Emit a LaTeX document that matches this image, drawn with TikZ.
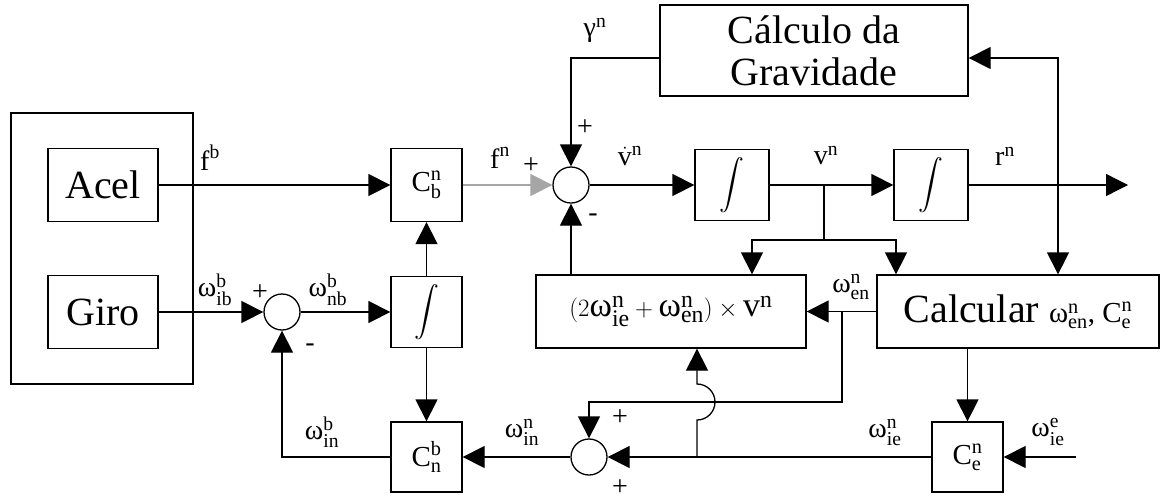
\documentclass[tikz,border=0pt]{standalone}
\usepackage{amsmath}
\usepackage{fontspec}
\setmainfont{Liberation Serif}
\usetikzlibrary{arrows.meta}
\newcommand\sy[3]{\ensuremath{\text{#1}^{\text{#2}}_{\text{#3}}}}
\newcommand\syp[2]{\ensuremath{\text{#1}^{\text{#2}}}}
\begin{document}
\begin{tikzpicture}[x=1pt,y=-1pt, line width=1.3pt,
  blk/.style={draw, rectangle, inner sep=0pt},
  sm/.style={draw, circle, minimum size=36pt, inner sep=0pt},
  arr/.style={-{Triangle[length=22pt,width=22pt]}},
  arrb/.style={{Triangle[length=22pt,width=22pt]}-{Triangle[length=22pt,width=22pt]}},
  big/.style={font=\fontsize{40}{42}\selectfont},
  sym/.style={font=\fontsize{29}{32}\selectfont},
  lbl/.style={font=\fontsize{28}{32}\selectfont, inner sep=0pt},
  intg/.style={font=\fontsize{25}{28}\selectfont},
]
\useasboundingbox (0,0) rectangle (1161,501);

% blocks
\node[blk, minimum width=182pt, minimum height=271pt] (outer) at (102,248.5) {};
\node[blk, minimum width=110pt, minimum height=73pt, big] (acel) at (103,185) {Acel};
\node[blk, minimum width=110pt, minimum height=73pt, big] (giro) at (103,312) {Giro};
\node[blk, minimum width=71pt, minimum height=73pt, sym] (Cb) at (426.5,185) {\sy{C}{n}{b}};
\node[blk, minimum width=71pt, minimum height=71pt, intg] (intL) at (426.5,312) {$\displaystyle\int$};
\node[blk, minimum width=71pt, minimum height=70pt, sym] (Cnb) at (426.5,457) {\sy{C}{b}{n}};
\node[sm] (sum1) at (282,312) {};
\node[sm] (sum2) at (571,185) {};
\node[sm] (sum3) at (589,457) {};
\node[blk, minimum width=308pt, minimum height=91pt, big, align=center] (grav) at (814,50.5) {Cálculo da\\Gravidade};
\node[blk, minimum width=74pt, minimum height=71pt, intg] (int1) at (732,185) {$\displaystyle\int$};
\node[blk, minimum width=74pt, minimum height=71pt, intg] (int2) at (931,185) {$\displaystyle\int$};
\node[blk, minimum width=270pt, minimum height=73pt, font=\fontsize{34}{38}\selectfont] (cross) at (671,311.5)
  {$(2\text{ω}^{\text{n}}_{\text{ie}}+\text{ω}^{\text{n}}_{\text{en}})\times\text{v}^{\text{n}}$};
\node[blk, minimum width=282pt, minimum height=73pt, big] (calc) at (1018,311.5)
  {Calcular {\fontsize{29}{32}\selectfont\sy{ω}{n}{en}, \sy{C}{n}{e}}};
\node[blk, minimum width=71pt, minimum height=70pt, sym] (Ce) at (967.5,457) {\sy{C}{n}{e}};

% coordinates
\coordinate (g1) at (571,58);
\coordinate (fb) at (1058,58);
\coordinate (vb) at (824,185);
\coordinate (vb2) at (824,240);
\coordinate (va) at (752,240);
\coordinate (vc) at (896,240);
\coordinate (eb) at (842,311.5);
\coordinate (eb2) at (842,402);
\coordinate (eb3) at (589,402);
\coordinate (jb) at (697,457);
\coordinate (jb1) at (697,420);
\coordinate (cb) at (282,457);
\coordinate (win) at (1076,457);
\coordinate (rout) at (1128,185);

% connectors
\draw[arr] (acel.east) -- (Cb.west);
\draw[arr] (giro.east) -- (sum1.west);
\draw[arr] (sum1.east) -- (intL.west);
\draw[arr] (intL.north) -- (Cb.south);
\draw[arr] (intL.south) -- (Cnb.north);
\draw[arr, draw=gray!70] (Cb.east) -- (sum2.west);
\draw[arr] (sum2.east) -- (int1.west);
\draw[arr] (int1.east) -- (int2.west);
\draw[arr] (int2.east) -- (rout);
\draw[arr] (grav.west |- g1) -- (g1) -- (sum2.north);
\draw[arrb] (grav.east |- fb) -- (fb) -- (fb |- calc.north);
\draw (vb) -- (vb2);
\draw[arr] (vb2) -- (va) -- (va |- cross.north);
\draw[arr] (vb2) -- (vc) -- (vc |- calc.north);
\draw[arr] (cross.north -| sum2) -- (sum2.south);
\draw[arr] (calc.west) -- (cross.east);
\draw[arr] (eb) -- (eb2) -- (eb3) -- (sum3.north);
\draw[arr] (Ce.west) -- (sum3.east);
\draw[arr] (jb) -- (jb1) arc(90:-90:18) -- (jb |- cross.south);
\draw[arr] (sum3.west) -- (Cnb.east);
\draw[arr] (Cnb.west) -- (cb) -- (sum1.south);
\draw[arr] (calc.south -| Ce) -- (Ce.north);
\draw[arr] (win) -- (Ce.east);

% labels
\node[lbl] (lfb) at (210,158) {\syp{f}{b}};
\node[lbl] (lwib) at (215,290) {\sy{ω}{b}{ib}};
\node[lbl] (p1) at (260,293) {+};
\node[lbl] (lwnb) at (328,290) {\sy{ω}{b}{nb}};
\node[lbl] (m1) at (310,348) {-};
\node[lbl] (lfn) at (500,158) {\syp{f}{n}};
\node[lbl] (p2) at (531,166) {+};
\node[lbl] (p3) at (585,128) {+};
\node[lbl] (lvd) at (630,156) {\ensuremath{\dot{\text{v}}^{\text{n}}}};
\node[lbl] (m2) at (593,218) {-};
\node[lbl] (lg) at (595,30) {\syp{γ}{n}};
\node[lbl] (lv) at (826,156) {\syp{v}{n}};
\node[lbl] (lr) at (1005,156) {\syp{r}{n}};
\node[lbl] (lwen) at (851,287) {\sy{ω}{n}{en}};
\node[lbl] (lwinn) at (522,432) {\sy{ω}{n}{in}};
\node[lbl] (lwinb) at (322,432) {\sy{ω}{b}{in}};
\node[lbl] (p4) at (620,418) {+};
\node[lbl] (p5) at (620,488) {+};
\node[lbl] (lwie) at (885,432) {\sy{ω}{n}{ie}};
\node[lbl] (lwiee) at (1048,432) {\sy{ω}{e}{ie}};
\end{tikzpicture}
\end{document}
